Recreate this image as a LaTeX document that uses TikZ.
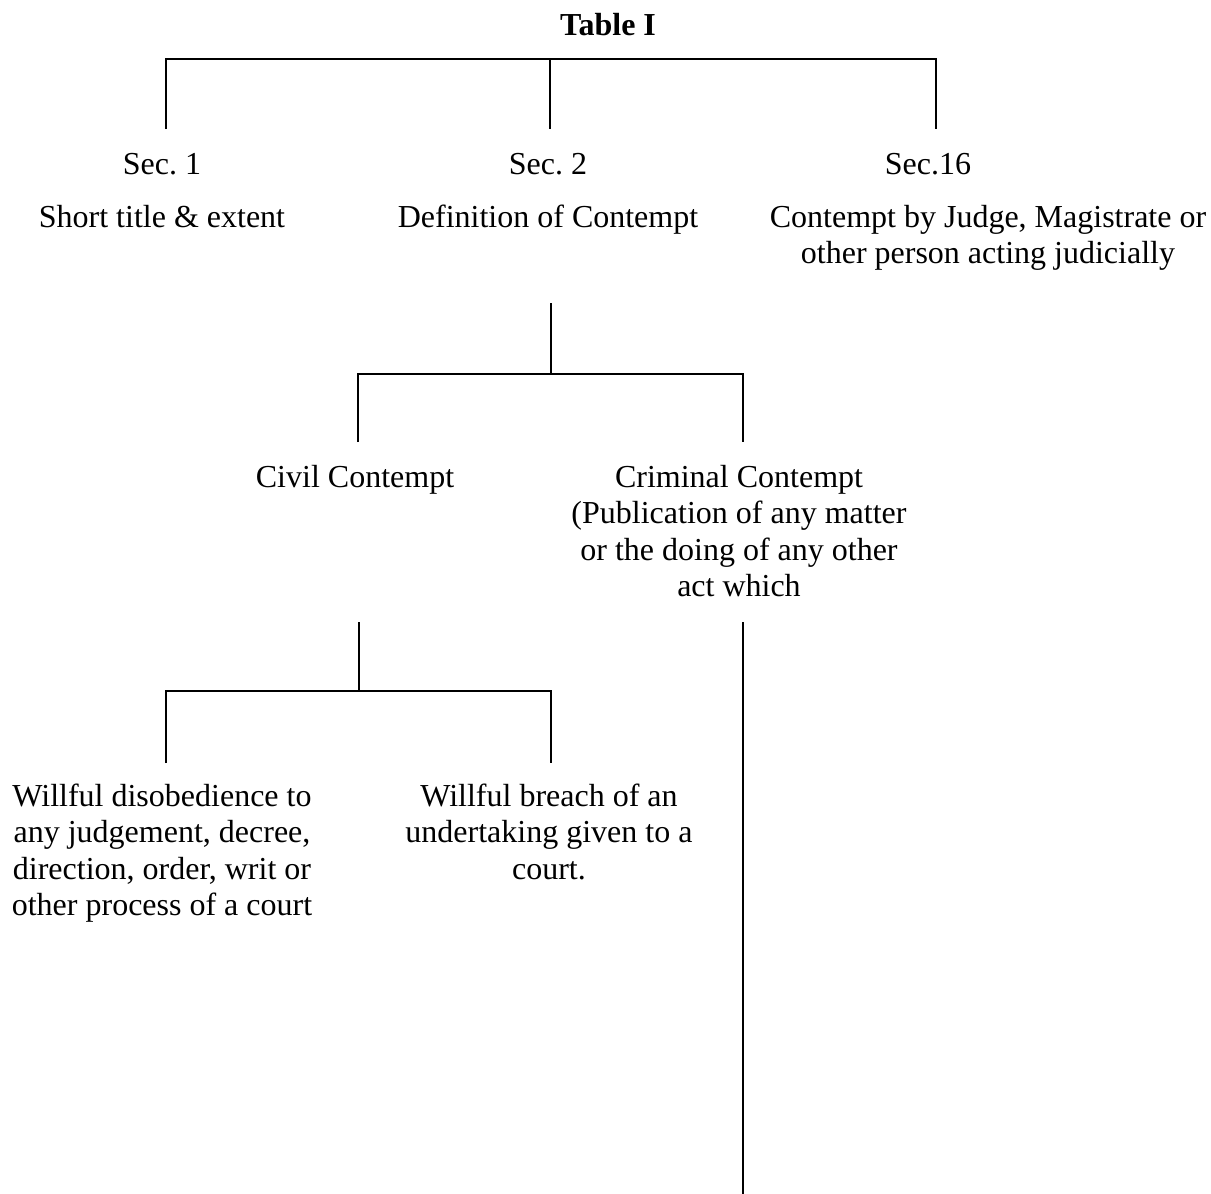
\documentclass[tikz,border=0pt]{standalone}
\usepackage{fontspec}
\setmainfont{Liberation Serif}
\frenchspacing
\begin{document}
\begin{tikzpicture}[x=1pt,y=-1pt,
  lbl/.style={font=\fontsize{32}{36.5}\selectfont, align=center, inner sep=0pt, anchor=base},
  ln/.style={line width=2pt, line join=miter}]
\useasboundingbox[fill=white] (0,0) rectangle (1211,1194);
% texts (base anchor = baseline of the last line)
\node[lbl, font=\fontsize{32}{36.5}\selectfont\bfseries] (title) at (608,35) {Table I};
\node[lbl] (s1) at (162,174) {Sec. 1};
\node[lbl] (s1d) at (162,227) {Short title \& extent};
\node[lbl] (s2) at (548,174) {Sec. 2};
\node[lbl] (s2d) at (548,227) {Definition of Contempt};
\node[lbl] (s16) at (928,174) {Sec.16};
\node[lbl] (s16d) at (988,263.5) {Contempt by Judge, Magistrate or\\other person acting judicially};
\node[lbl] (civ) at (355,487) {Civil Contempt};
\node[lbl] (crim) at (739,596.5) {Criminal Contempt\\(Publication of any matter\\or the doing of any other\\act which};
\node[lbl] (w1) at (162,915.5) {Willful disobedience to\\any judgement, decree,\\direction, order, writ or\\other process of a court};
\node[lbl] (w2) at (549,879) {Willful breach of an\\undertaking given to a\\court.};
% junction coordinates
\coordinate (t1) at (166,59);
\coordinate (t2) at (550,59);
\coordinate (t3) at (936,59);
\coordinate (a1) at (166,129);
\coordinate (a2) at (550,129);
\coordinate (a3) at (936,129);
\coordinate (m0) at (551,303);
\coordinate (m1) at (551,374);
\coordinate (ml) at (358,374);
\coordinate (mr) at (743,374);
\coordinate (mlb) at (358,442);
\coordinate (mrb) at (743,442);
\coordinate (c0) at (359,622);
\coordinate (c1) at (359,691);
\coordinate (cl) at (166,691);
\coordinate (cr) at (551,691);
\coordinate (clb) at (166,763);
\coordinate (crb) at (551,763);
\coordinate (k0) at (743,622);
\coordinate (k1) at (743,1194);
% connectors
\draw[ln] (a1) -- (t1) -- (t3) -- (a3);
\draw[ln] (t2) -- (a2);
\draw[ln] (m0) -- (m1);
\draw[ln] (mlb) -- (ml) -- (mr) -- (mrb);
\draw[ln] (c0) -- (c1);
\draw[ln] (clb) -- (cl) -- (cr) -- (crb);
\draw[ln] (k0) -- (k1);
\end{tikzpicture}
\end{document}
